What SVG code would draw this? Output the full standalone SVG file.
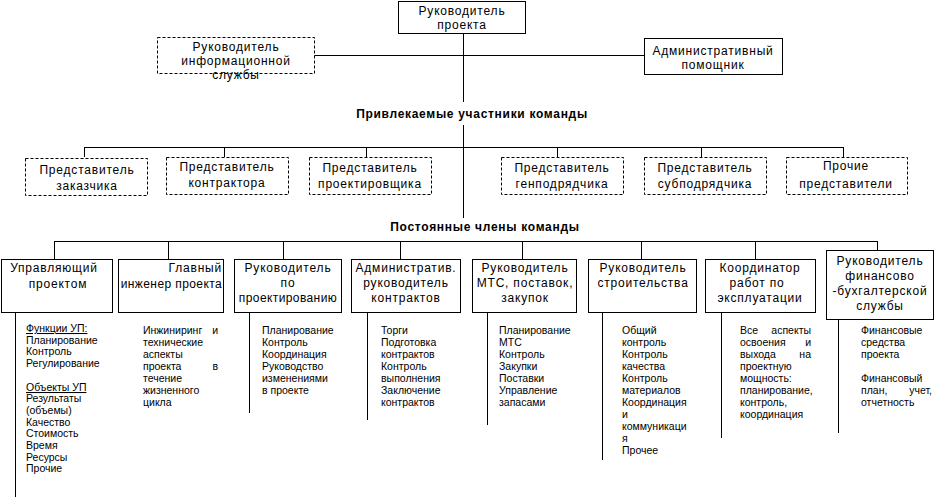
<svg xmlns="http://www.w3.org/2000/svg" width="935" height="497" viewBox="0 0 935 497">
<style>
.bx{fill:#fff;stroke:#000;stroke-width:1}
.ds{fill:#fff;stroke:#000;stroke-width:1;stroke-dasharray:3,2}
.ln{stroke:#000;stroke-width:1;fill:none}
.t{font-family:"Liberation Sans",Arial,sans-serif;font-size:12px;letter-spacing:0.8px;fill:#000}
.n{letter-spacing:0.4px}
.c{text-anchor:middle}
.e{text-anchor:end}
.b{font-family:"Liberation Sans",Arial,sans-serif;font-size:12px;font-weight:bold;letter-spacing:0.7px;fill:#000;text-anchor:middle}
.s{font-family:"Liberation Sans",Arial,sans-serif;font-size:10.5px;fill:#000}
.u{text-decoration:underline}
</style>
<rect width="935" height="497" fill="#fff"/>
<g id="connectors">
<path class="ln" d="M463.5 33V102M463.5 125V218M314 55.5H644M84.5 147.5H843.5M84.5 147V157M224.5 147V157M366.5 147V157M557.5 147V157M701.5 147V157M843.5 147V157"/>
<path class="ln" d="M54.5 241.5H877.5M54.5 241V259M168.5 241V259M283.5 241V259M400.5 241V259M522.5 241V259M641.5 241V259M755.5 241V259M877.5 241V250"/>
<path class="ln" d="M15.5 312V497M249.5 312V413M367.5 312V420M487.5 312V425M602.5 312V460M721.5 313V438M838.5 319V433"/>
</g>
<g id="pm"><rect class="bx" x="398.5" y="1.5" width="127" height="32"/>
<text class="t c" x="462" y="15">Руководитель</text><text class="t c" x="462" y="29">проекта</text></g>
<g id="info"><rect class="ds" x="157.5" y="37.5" width="157" height="36"/>
<text class="t c" x="236" y="51">Руководитель</text><text class="t c" x="236" y="65">информационной</text><text class="t c" x="236" y="79">службы</text></g>
<g id="admin"><rect class="bx" x="644.5" y="38.5" width="138" height="36"/>
<text class="t c" x="713" y="55">Административный</text><text class="t c" x="713" y="69">помощник</text></g>
<g id="lbl1"><text class="b" x="472" y="118">Привлекаемые участники команды</text></g>
<g id="r1"><rect class="ds" x="25.5" y="158.5" width="122" height="37"/>
<text class="t c" x="87" y="174">Представитель</text><text class="t c" x="87" y="190">заказчика</text></g>
<g id="r2"><rect class="ds" x="166.5" y="157.5" width="122" height="37"/>
<text class="t c" x="227" y="171">Представитель</text><text class="t c" x="227" y="187">контрактора</text></g>
<g id="r3"><rect class="ds" x="309.5" y="157.5" width="122" height="37"/>
<text class="t c" x="370" y="172">Представитель</text><text class="t c" x="370" y="188">проектировщика</text></g>
<g id="r4"><rect class="ds" x="501.5" y="157.5" width="122" height="37"/>
<text class="t c" x="562" y="172">Представитель</text><text class="t c" x="562" y="188">генподрядчика</text></g>
<g id="r5"><rect class="ds" x="644.5" y="157.5" width="122" height="37"/>
<text class="t c" x="705" y="172">Представитель</text><text class="t c" x="705" y="188">субподрядчика</text></g>
<g id="r6"><rect class="ds" x="786.5" y="157.5" width="121" height="37"/>
<text class="t c" x="846" y="170">Прочие</text><text class="t c" x="846" y="188">представители</text></g>
<g id="lbl2"><text class="b" x="485" y="231">Постоянные члены команды</text></g>
<g id="p1"><rect class="bx" x="1.5" y="259.5" width="111" height="53"/>
<text class="t c" x="54" y="272">Управляющий</text><text class="t c" x="58" y="288">проектом</text>
<text class="s u" x="26" y="332">Функции УП:</text>
<text class="s" x="26" y="344">Планирование</text>
<text class="s" x="26" y="355">Контроль</text>
<text class="s" x="26" y="367">Регулирование</text>
<text class="s u" x="26" y="391">Объекты УП</text>
<text class="s" x="26" y="402">Результаты</text>
<text class="s" x="26" y="414">(объемы)</text>
<text class="s" x="26" y="426">Качество</text>
<text class="s" x="26" y="437">Стоимость</text>
<text class="s" x="26" y="449">Время</text>
<text class="s" x="26" y="461">Ресурсы</text>
<text class="s" x="26" y="472">Прочие</text></g>
<g id="p2"><rect class="bx" x="118.5" y="259.5" width="105" height="53"/>
<text class="t e" x="222" y="272">Главный</text><text class="t n e" x="222" y="288">инженер проекта</text>
<text class="s" x="143" y="334">Инжиниринг</text><text class="s e" x="218" y="334">и</text>
<text class="s" x="143" y="346">технические</text>
<text class="s" x="143" y="358">аспекты</text>
<text class="s" x="143" y="370">проекта</text><text class="s e" x="218" y="370">в</text>
<text class="s" x="143" y="382">течение</text>
<text class="s" x="143" y="394">жизненного</text>
<text class="s" x="143" y="406">цикла</text></g>
<g id="p3"><rect class="bx" x="234.5" y="259.5" width="107" height="53"/>
<text class="t c" x="288" y="272">Руководитель</text><text class="t c" x="288" y="287">по</text><text class="t n c" x="288" y="302">проектированию</text>
<text class="s" x="262" y="334">Планирование</text>
<text class="s" x="262" y="346">Контроль</text>
<text class="s" x="262" y="358">Координация</text>
<text class="s" x="262" y="370">Руководство</text>
<text class="s" x="262" y="382">изменениями</text>
<text class="s" x="262" y="394">в проекте</text></g>
<g id="p4"><rect class="bx" x="351.5" y="259.5" width="109" height="53"/>
<text class="t c" x="406" y="272">Административ.</text><text class="t c" x="406" y="287">руководитель</text><text class="t c" x="406" y="302">контрактов</text>
<text class="s" x="381" y="334">Торги</text>
<text class="s" x="381" y="346">Подготовка</text>
<text class="s" x="381" y="358">контрактов</text>
<text class="s" x="381" y="370">Контроль</text>
<text class="s" x="381" y="382">выполнения</text>
<text class="s" x="381" y="394">Заключение</text>
<text class="s" x="381" y="406">контрактов</text></g>
<g id="p5"><rect class="bx" x="472.5" y="259.5" width="104" height="53"/>
<text class="t c" x="525" y="272">Руководитель</text><text class="t c" x="525" y="287">МТС, поставок,</text><text class="t c" x="525" y="302">закупок</text>
<text class="s" x="499" y="334">Планирование</text>
<text class="s" x="499" y="346">МТС</text>
<text class="s" x="499" y="358">Контроль</text>
<text class="s" x="499" y="370">Закупки</text>
<text class="s" x="499" y="382">Поставки</text>
<text class="s" x="499" y="394">Управление</text>
<text class="s" x="499" y="406">запасами</text></g>
<g id="p6"><rect class="bx" x="588.5" y="259.5" width="108" height="53"/>
<text class="t c" x="643" y="272">Руководитель</text><text class="t c" x="643" y="287">строительства</text>
<text class="s" x="622" y="334">Общий</text>
<text class="s" x="622" y="346">контроль</text>
<text class="s" x="622" y="358">Контроль</text>
<text class="s" x="622" y="370">качества</text>
<text class="s" x="622" y="382">Контроль</text>
<text class="s" x="622" y="394">материалов</text>
<text class="s" x="622" y="406">Координация</text>
<text class="s" x="622" y="418">и</text>
<text class="s" x="622" y="430">коммуникаци</text>
<text class="s" x="622" y="442">я</text>
<text class="s" x="622" y="454">Прочее</text></g>
<g id="p7"><rect class="bx" x="705.5" y="259.5" width="110" height="53"/>
<text class="t c" x="760" y="272">Координатор</text><text class="t c" x="757" y="287">работ по</text><text class="t c" x="760" y="302">эксплуатации</text>
<text class="s" x="740" y="334">Все</text><text class="s e" x="811" y="334">аспекты</text>
<text class="s" x="740" y="346">освоения</text><text class="s e" x="811" y="346">и</text>
<text class="s" x="740" y="358">выхода</text><text class="s e" x="811" y="358">на</text>
<text class="s" x="740" y="370">проектную</text>
<text class="s" x="740" y="382">мощность:</text>
<text class="s" x="740" y="394">планирование,</text>
<text class="s" x="740" y="406">контроль,</text>
<text class="s" x="740" y="418">координация</text></g>
<g id="p8"><rect class="bx" x="826.5" y="250.5" width="107" height="69"/>
<text class="t c" x="880" y="265">Руководитель</text><text class="t c" x="880" y="280">финансово</text><text class="t c" x="880" y="295">-бухгалтерской</text><text class="t c" x="880" y="310">службы</text>
<text class="s" x="861" y="334">Финансовые</text>
<text class="s" x="861" y="346">средства</text>
<text class="s" x="861" y="358">проекта</text>
<text class="s" x="861" y="382">Финансовый</text>
<text class="s" x="861" y="394">план,</text><text class="s e" x="932" y="394">учет,</text>
<text class="s" x="861" y="406">отчетность</text></g>
</svg>
